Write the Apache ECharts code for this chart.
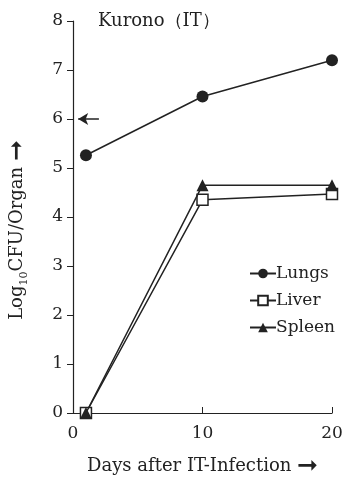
<!DOCTYPE html>
<html><head><meta charset="utf-8">
<script src="https://cdn.jsdelivr.net/npm/echarts@6/dist/echarts.min.js"></script>
<style>html,body{margin:0;padding:0;background:#fff}#c{width:342px;height:484px}</style>
</head><body><div id="c"></div>
<script>
var days = [1, 10, 20];
var lungs = [5.26, 6.46, 7.2];
var liver = [0, 4.35, 4.47];
var spleen = [0, 4.65, 4.65];
var xTicks = [0, 10, 20];
var yTicks = [0, 1, 2, 3, 4, 5, 6, 7, 8];
var refLevel = 6;

var ink = '#222';
var font = 'DejaVu Serif';
function pairs(v){ return days.map(function(d,i){ return [d, v[i]]; }); }

var chart = echarts.init(document.getElementById('c'));
chart.setOption({
  backgroundColor: '#fff',
  animation: false,
  title: { text: 'Kurono\uFF08IT\uFF09', left: 93, top: 7,
    textStyle: { fontFamily: font, fontSize: 18, fontWeight: 'normal', color: ink } },
  legend: {
    orient: 'vertical', left: 244, top: 260, itemWidth: 26, itemHeight: 12, itemGap: 10,
    textStyle: { fontFamily: font, fontSize: 17, color: ink, padding: [0,0,0,-5] },
    data: ['Lungs', 'Liver', 'Spleen']
  },
  grid: { left: 73, right: 10, top: 21, bottom: 71, containLabel: false, outerBoundsMode: 'none' },
  xAxis: {
    type: 'value', min: xTicks[0], max: xTicks[xTicks.length-1], interval: 10,
    name: '{n|Days after IT-Infection }{a|\u279E}', nameLocation: 'middle', nameGap: 41,
    nameTextStyle: { rich: {
      n: { fontFamily: font, fontSize: 18, color: ink },
      a: { fontFamily: 'DejaVu Sans', fontSize: 25, color: ink }
    } },
    axisLine: { lineStyle: { color: ink, width: 1.2 } },
    axisTick: { inside: true, length: 6, lineStyle: { color: ink } },
    axisLabel: { fontFamily: font, fontSize: 17, color: ink, margin: 12 },
    splitLine: { show: false }
  },
  yAxis: {
    type: 'value', min: yTicks[0], max: yTicks[yTicks.length-1], interval: 1,
    name: '{n|Log}{s|10}{n|CFU/Organ }{a|\u279E}', nameLocation: 'middle', nameGap: 43, nameRotate: 90,
    nameTextStyle: { padding: [0, 26, 0, 0], rich: {
      n: { fontFamily: font, fontSize: 18, color: ink },
      s: { fontFamily: font, fontSize: 11, color: ink, verticalAlign: 'bottom', padding: [8,0,0,0] },
      a: { fontFamily: 'DejaVu Sans', fontSize: 25, color: ink }
    } },
    axisLine: { show: true, lineStyle: { color: ink, width: 1.2 } },
    axisTick: { show: true, inside: false, length: 6, lineStyle: { color: ink } },
    axisLabel: { fontFamily: font, fontSize: 17, color: ink, margin: 10 },
    splitLine: { show: false }
  },
  series: [
    { name: 'Lungs', type: 'line', data: pairs(lungs), symbol: 'circle', symbolSize: 12,
      lineStyle: { color: ink, width: 1.5 }, itemStyle: { color: ink }, z: 3,
      markLine: { silent: true, symbol: ['none', 'arrow'], symbolSize: [9, 10], label: { show: false },
        lineStyle: { color: ink, width: 1.5, type: 'solid' },
        data: [[{ coord: [2, refLevel] }, { coord: [0.4, refLevel] }]] } },
    { name: 'Liver', type: 'line', data: pairs(liver), symbol: 'rect', symbolSize: 11,
      lineStyle: { color: ink, width: 1.5 }, itemStyle: { color: '#fff', borderColor: ink, borderWidth: 1.5 }, z: 4 },
    { name: 'Spleen', type: 'line', data: pairs(spleen), symbol: 'triangle', symbolSize: 12,
      lineStyle: { color: ink, width: 1.5 }, itemStyle: { color: ink }, z: 5 }
  ]
});
</script></body></html>
